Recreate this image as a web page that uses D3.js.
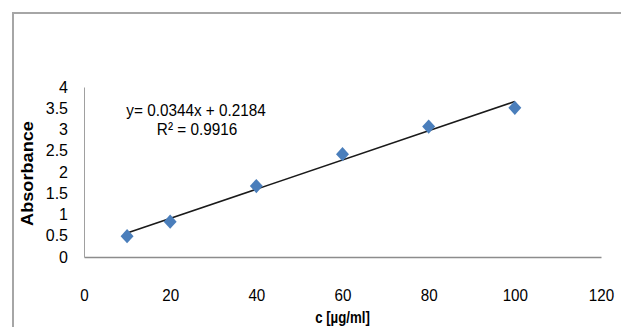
<!DOCTYPE html>
<html>
<head>
<meta charset="utf-8">
<script src="https://cdn.jsdelivr.net/npm/d3@7"></script>
<style>
  html, body { margin: 0; padding: 0; background: #fff; }
  svg { display: block; }
</style>
</head>
<body>
<div id="chart"></div>
<script>
// concentration (µg/ml) and measured absorbance
const concentrations = [10, 20, 40, 60, 80, 100];
const absorbance = [0.49, 0.83, 1.67, 2.42, 3.07, 3.51];

// linear trendline shown on the chart
const slope = 0.0344;
const intercept = 0.2184;
const rSquared = 0.9916;

const xTicks = [0, 20, 40, 60, 80, 100, 120];
const yTicks = [0, 0.5, 1, 1.5, 2, 2.5, 3, 3.5, 4];
const yTickLabels = ['0', '0.5', '1', '1.5', '2', '2.5', '3', '3.5', '4'];

const width = 621, height = 327;
const font = 'Liberation Sans, Arial, sans-serif';

const svg = d3.select('#chart').append('svg')
  .attr('width', width)
  .attr('height', height);

// chart frame, runs off the right and bottom edge
svg.append('rect')
  .attr('x', 13).attr('y', 13)
  .attr('width', 700).attr('height', 400)
  .attr('fill', 'none')
  .attr('stroke', '#a6a6a6')
  .attr('stroke-width', 2);

const x = d3.scaleLinear().domain([0, 120]).range([84, 601]);
const y = d3.scaleLinear().domain([0, 4]).range([257, 87]);

// x axis
const xAxis = svg.append('g')
  .attr('transform', `translate(0,${y(0)})`)
  .call(d3.axisBottom(x).tickValues(xTicks).tickSize(0).tickPadding(0).tickFormat(d3.format('d')));
xAxis.select('.domain').attr('stroke', '#8c8c8c').attr('stroke-width', 1.5);
xAxis.selectAll('text')
  .attr('font-family', font)
  .attr('font-size', 16)
  .attr('fill', '#000')
  .attr('dy', null)
  .attr('y', 44)
  .attr('transform', 'scale(0.95,1)');

// y axis
const yAxis = svg.append('g')
  .attr('transform', `translate(${x(0)},0)`)
  .call(d3.axisLeft(y).tickValues(yTicks).tickSize(0).tickPadding(16)
    .tickFormat((d, i) => yTickLabels[i]));
yAxis.select('.domain').attr('stroke', '#a0a0a0').attr('stroke-width', 1);
yAxis.selectAll('text')
  .attr('font-family', font)
  .attr('font-size', 16)
  .attr('fill', '#000');

// trendline
const x0 = concentrations[0], x1 = concentrations[concentrations.length - 1];
svg.append('line')
  .attr('x1', x(x0)).attr('y1', y(slope * x0 + intercept))
  .attr('x2', x(x1)).attr('y2', y(slope * x1 + intercept))
  .attr('stroke', '#1a1a1a')
  .attr('stroke-width', 1.6);

// data points
const diamond = d3.symbol().type(d3.symbolSquare).size(84);
svg.append('g')
  .selectAll('path')
  .data(concentrations.map((c, i) => [c, absorbance[i]]))
  .join('path')
  .attr('d', diamond)
  .attr('transform', d => `translate(${x(d[0])},${y(d[1])}) scale(1,1.1) rotate(45)`)
  .attr('fill', '#4a7ebb');

// equation label
const eq = svg.append('g')
  .attr('font-family', font)
  .attr('font-size', 17)
  .attr('text-anchor', 'middle');
eq.append('text')
  .attr('transform', 'translate(196,116) scale(0.9,1)')
  .text(`y= ${slope}x + ${intercept}`);
eq.append('text')
  .attr('transform', 'translate(197,135) scale(0.9,1)')
  .text(`R² = ${rSquared}`);

// axis titles
svg.append('text')
  .attr('transform', `translate(${(x(0) + x(120)) / 2},323) scale(0.78,1)`)
  .attr('text-anchor', 'middle')
  .attr('font-family', font)
  .attr('font-size', 17)
  .attr('font-weight', 'bold')
  .text('c [µg/ml]');

svg.append('text')
  .attr('transform', 'translate(33,173.5) rotate(-90) scale(1.1,1)')
  .attr('text-anchor', 'middle')
  .attr('font-family', font)
  .attr('font-size', 16.5)
  .attr('font-weight', 'bold')
  .text('Absorbance');
</script>
</body>
</html>
